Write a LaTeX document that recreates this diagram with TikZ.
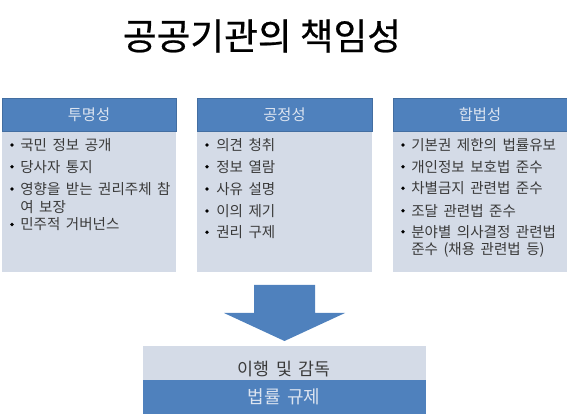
\documentclass[tikz,border=0pt]{standalone}
\usepackage{fontspec}
\setmainfont[WordSpace=1.7]{Noto Sans CJK KR}
\newfontfamily\titlefont[FakeBold=0.6]{Noto Sans CJK KR}
\usetikzlibrary{fit}
\definecolor{hblue}{HTML}{4F81BD}
\definecolor{lbg}{HTML}{D4DBE7}
\definecolor{tgray}{HTML}{3A3A3A}
\definecolor{htext}{HTML}{DCE4F0}
\tikzset{
  hdr/.style={fill=hblue, draw=hblue!85!black, line width=0.4pt, inner sep=0pt},
  bodybox/.style={fill=lbg, draw=none, inner sep=0pt},
  hdrtext/.style={text=htext, font=\fontsize{11.5}{13}\selectfont, inner sep=0pt},
  itemtext/.style={text=tgray, font=\fontsize{10.9}{13.2}\selectfont, anchor=west, inner sep=0pt, align=left},
  dot/.style={circle, fill=black, inner sep=0pt, minimum size=2.9pt},
}
\begin{document}
\begin{tikzpicture}[x=0.75pt,y=-0.75pt]
\useasboundingbox (0,0) rectangle (567,416);
\node[font=\titlefont\fontsize{27.5}{30}\selectfont] (title) at (262,36) {공공기관의 책임성};
% box 1
\node[bodybox, fit={(2,131) (176,272)}] (b1) {};
\node[hdr, fit={(2,98) (176,131)}] (h1) {};
\node[hdrtext] (h1t) at (h1.center) {투명성};
\node[dot] (d11) at (12,145) {}; \node[itemtext] (t11) at (20,145) {국민 정보 공개};
\node[dot] (d12) at (12,166.7) {}; \node[itemtext] (t12) at (20,166.7) {당사자 통지};
\node[dot] (d13) at (12,189) {}; \node[itemtext] (t13) at (20,189) {영향을 받는 권리주체 참};
\node[itemtext] (t13b) at (20,206.7) {여 보장};
\node[dot] (d14) at (12,224.5) {}; \node[itemtext] (t14) at (20,224.5) {민주적 거버넌스};
% box 2
\node[bodybox, fit={(197,131) (372,272)}] (b2) {};
\node[hdr, fit={(197,98) (372,131)}] (h2) {};
\node[hdrtext] (h2t) at (h2.center) {공정성};
\node[dot] (d21) at (207,145) {}; \node[itemtext] (t21) at (216,145) {의견 청취};
\node[dot] (d22) at (207,166.7) {}; \node[itemtext] (t22) at (216,166.7) {정보 열람};
\node[dot] (d23) at (207,189) {}; \node[itemtext] (t23) at (216,189) {사유 설명};
\node[dot] (d24) at (207,211) {}; \node[itemtext] (t24) at (216,211) {이의 제기};
\node[dot] (d25) at (207,232.3) {}; \node[itemtext] (t25) at (216,232.3) {권리 구제};
% box 3
\node[bodybox, fit={(393,131) (567,272)}] (b3) {};
\node[hdr, fit={(393,98) (567,131)}] (h3) {};
\node[hdrtext] (h3t) at (h3.center) {합법성};
\node[dot] (d31) at (403,145) {}; \node[itemtext] (t31) at (411,145) {기본권 제한의 법률유보};
\node[dot] (d32) at (403,166.7) {}; \node[itemtext] (t32) at (411,166.7) {개인정보 보호법 준수};
\node[dot] (d33) at (403,188.3) {}; \node[itemtext] (t33) at (411,188.3) {차별금지 관련법 준수};
\node[dot] (d34) at (403,210.7) {}; \node[itemtext] (t34) at (411,210.7) {조달 관련법 준수};
\node[dot] (d35) at (403,231.7) {}; \node[itemtext] (t35) at (411,231.7) {분야별 의사결정 관련법};
\node[itemtext] (t35b) at (411,249.5) {준수 (채용 관련법 등)};
% arrow
\fill[hblue] (254,285) -- (315,285) -- (315,313) -- (345,313) -- (284.5,341) -- (224,313) -- (254,313) -- cycle;
% bottom
\node[bodybox, fit={(143,346) (426,380)}] (bt) {};
\node[fill=hblue, inner sep=0pt, fit={(143,380) (426,414)}] (bb) {};
\node[text=tgray, font=\fontsize{13}{15}\selectfont, inner sep=0pt] (btt) at (284,369) {이행 및 감독};
\node[text=htext, font=\fontsize{13.5}{15}\selectfont, inner sep=0pt] (bbt) at (284,397) {법률 규제};
\end{tikzpicture}
\end{document}
